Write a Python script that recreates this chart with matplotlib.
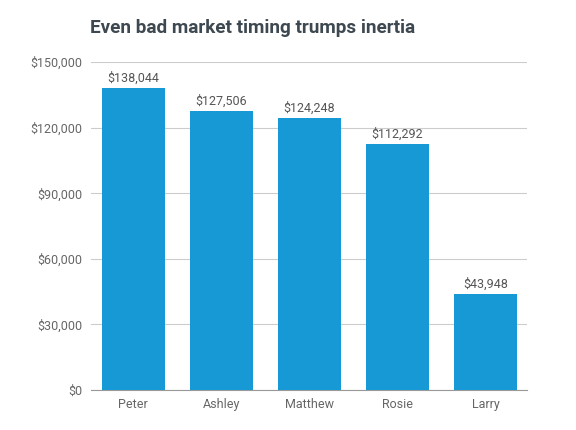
import matplotlib.pyplot as plt
from matplotlib.ticker import FuncFormatter

names = ["Peter", "Ashley", "Matthew", "Rosie", "Larry"]
values = [138044, 127506, 124248, 112292, 43948]
yticks = [0, 30000, 60000, 90000, 120000, 150000]

plt.rcParams['font.family'] = ['Roboto', 'DejaVu Sans']

fig = plt.figure(figsize=(5.76, 4.30), dpi=100)
ax = fig.add_axes([0.158, 0.093, 0.757, 0.763])

x = range(len(names))
bars = ax.bar(x, values, width=0.72, color="#1799d5", zorder=3)
for b, v in zip(bars, values):
    ax.text(b.get_x() + b.get_width() / 2, v + 1500, "${:,}".format(v),
            ha="center", va="bottom", fontsize=9, color="#555555")

ax.set_xticks(list(x))
ax.set_xticklabels(names)
ax.set_yticks(yticks)
ax.yaxis.set_major_formatter(FuncFormatter(lambda v, p: "${:,.0f}".format(v)))
ax.set_ylim(0, 150000)
ax.set_xlim(-0.48, 4.47)
ax.grid(axis="y", color="#cccccc", linewidth=0.8, zorder=0)
for s in ["top", "right", "left"]:
    ax.spines[s].set_visible(False)
ax.spines["bottom"].set_color("#999999")
ax.tick_params(axis="both", length=0, labelsize=9, colors="#666666")
ax.tick_params(axis="y", pad=6)
ax.tick_params(axis="x", pad=6)

fig.text(0.156, 0.935, "Even bad market timing trumps inertia", fontsize=13.6,
         fontweight="bold", color="#3d4850", ha="left", va="center")

fig.savefig("out.png", dpi=100)
